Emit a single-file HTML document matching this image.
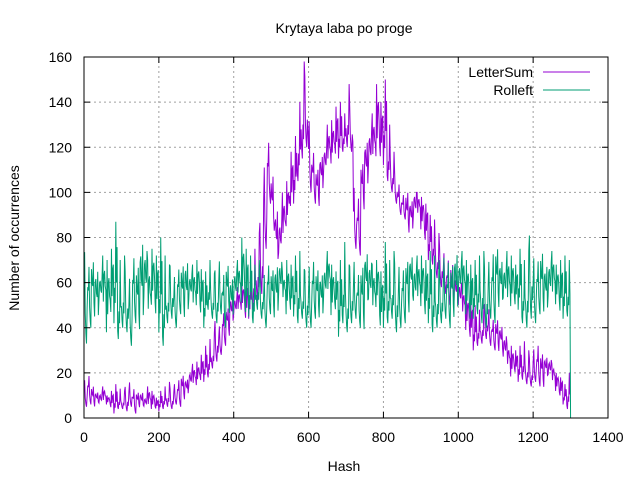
<!DOCTYPE html>
<html><head><meta charset="utf-8"><style>
body{margin:0;background:#fff}
svg{display:block;font-family:"Liberation Sans",sans-serif}
</style></head><body>
<svg id="c" width="640" height="480">
<text x="344" y="33" font-size="14" text-anchor="middle">Krytaya laba po proge</text>
<text x="344" y="471" font-size="14" text-anchor="middle">Hash</text>
<text x="19" y="238" font-size="14" text-anchor="middle" transform="rotate(-90 19 238)">Number of occurrences</text>
<g id="grid"></g><g id="series"></g><g id="axes"></g>
<g>
<text x="533" y="77" font-size="14" text-anchor="end">LetterSum</text>
<line x1="543" y1="72" x2="590" y2="72" stroke="#9400d3"/>
<text x="533" y="95" font-size="14" text-anchor="end">Rolleft</text>
<line x1="543" y1="90" x2="590" y2="90" stroke="#009e73"/>
</g>
</svg>
<script>
const xTicks=[0,200,400,600,800,1000,1200,1400];
const yTicks=[0,20,40,60,80,100,120,140,160];
const binSize=10;
const letterLo=[5,6,4,5,3,4,5,3,2,4,4,3,5,2,4,3,2,1,2,3,3,4,5,4,6,5,7,8,9,10,12,14,16,18,22,25,28,32,35,38,40,42,45,40,44,48,52,55,75,95,80,60,62,70,80,88,95,105,115,120,100,95,92,95,100,105,108,112,115,118,120,118,75,72,90,95,100,105,108,110,112,105,100,95,90,88,80,78,82,85,80,75,70,68,62,58,55,50,48,45,42,40,35,32,30,32,33,35,32,30,28,26,20,18,15,18,16,17,15,14,16,14,12,15,14,12,10,8,6,4];
const letterHi=[18,20,15,12,12,14,10,12,15,13,12,15,17,14,12,12,10,14,12,9,12,14,16,14,16,18,20,18,22,24,25,28,32,35,38,45,42,48,50,55,55,58,60,62,65,75,82,90,115,125,110,95,90,100,105,118,125,140,158,155,135,120,112,118,122,130,132,138,140,135,148,140,105,100,115,125,130,135,148,140,150,130,118,110,105,100,102,98,102,100,98,95,90,88,82,78,75,72,70,65,62,58,55,52,50,48,50,52,50,45,45,42,38,33,32,30,32,34,30,28,32,34,30,28,27,24,20,18,15,20];
const rollLo=[33,40,42,36,44,38,30,40,42,35,40,38,32,42,36,30,38,34,44,40,38,32,42,44,40,46,42,38,44,40,45,42,40,48,44,42,46,40,44,38,42,46,44,40,45,42,48,44,40,46,42,38,44,46,40,43,45,42,44,40,40,44,42,38,42,46,40,44,36,42,38,42,44,40,36,42,40,38,44,35,40,42,44,38,40,42,44,46,40,42,44,40,42,38,40,42,44,40,42,38,44,42,40,38,44,46,42,40,44,42,46,44,42,40,44,46,48,42,40,44,42,46,44,40,42,44,46,42,44,45];
const rollHi=[78,70,72,68,65,72,70,75,87,70,72,68,65,74,70,82,78,70,75,72,80,72,68,70,65,68,70,72,66,68,70,66,65,70,64,68,72,66,70,64,68,70,80,75,72,68,70,65,66,70,68,70,72,65,70,68,72,74,66,68,70,72,68,66,70,74,68,65,70,78,68,70,72,66,70,76,72,68,70,65,78,70,74,72,70,68,72,74,70,72,72,70,74,72,70,68,74,72,70,76,72,74,70,68,70,72,74,70,72,76,78,72,70,74,72,68,75,70,74,85,74,72,76,70,72,74,68,70,72,70];
const X0=84,X1=608,Y0=418,Y1=57;
const sx=v=>X0+(v-0)/(1400-0)*(X1-X0);
const sy=v=>Y0-(v-0)/(160-0)*(Y0-Y1);
const NS='http://www.w3.org/2000/svg';
function mk(t,a,p){const e=document.createElementNS(NS,t);for(const k in a)e.setAttribute(k,a[k]);p.appendChild(e);return e;}
const grid=document.getElementById('grid'),axes=document.getElementById('axes'),ser=document.getElementById('series');
xTicks.forEach(v=>{const x=sx(v);
 if(v>0&&v<1400){const g=mk('line',{x1:x,y1:Y0,x2:x,y2:Y1,stroke:'#a0a0a0','stroke-dasharray':'2,3'},grid);
 
 }
 mk('line',{x1:x,y1:Y0,x2:x,y2:Y0-6,stroke:'#000'},axes);
 mk('line',{x1:x,y1:Y1,x2:x,y2:Y1+6,stroke:'#000'},axes);
 const t=mk('text',{x:x,y:Y0+24,'font-size':14,'text-anchor':'middle'},axes);t.textContent=v;
 
 
});
yTicks.forEach(v=>{const y=sy(v);
 if(v>0&&v<160){const g=mk('line',{x1:X0,y1:y,x2:X1,y2:y,stroke:'#a0a0a0','stroke-dasharray':'2,3'},grid);
 
 }
 mk('line',{x1:X0,y1:y,x2:X0+6,y2:y,stroke:'#000'},axes);
 mk('line',{x1:X1,y1:y,x2:X1-6,y2:y,stroke:'#000'},axes);
 const t=mk('text',{x:X0-12,y:y+5,'font-size':14,'text-anchor':'end'},axes);t.textContent=v;
 
 
});
const frame=mk('rect',{x:X0,y:Y1,width:X1-X0,height:Y0-Y1,fill:'none',stroke:'#000'},axes);


// within-bin sampling pattern (style only): fractions between bin low and high
const pat=[0.55,1,0.3,0.75,0,0.6,0.2,0.9,0.4,0.1,0.8,0.35];
function series(lo,hi,color,name,endZero){
 let pts=[];const n=6;
 lo.forEach((l,i)=>{const b=i*binSize;
  for(let k=0;k<n;k++){const f=pat[(i*5+k*7)%pat.length];
   pts.push(sx(b+k*binSize/n).toFixed(2)+','+sy(l+(hi[i]-l)*f).toFixed(2));}
 });
 if(endZero)pts.push(sx(lo.length*binSize)+','+sy(0));
 const p=mk('polyline',{points:pts.join(' '),fill:'none',stroke:color,'stroke-width':1},ser);
 
 
}
series(letterLo,letterHi,'#9400d3','lettersum-line',false);
series(rollLo,rollHi,'#009e73','rolleft-line',true);
</script>
</body></html>
